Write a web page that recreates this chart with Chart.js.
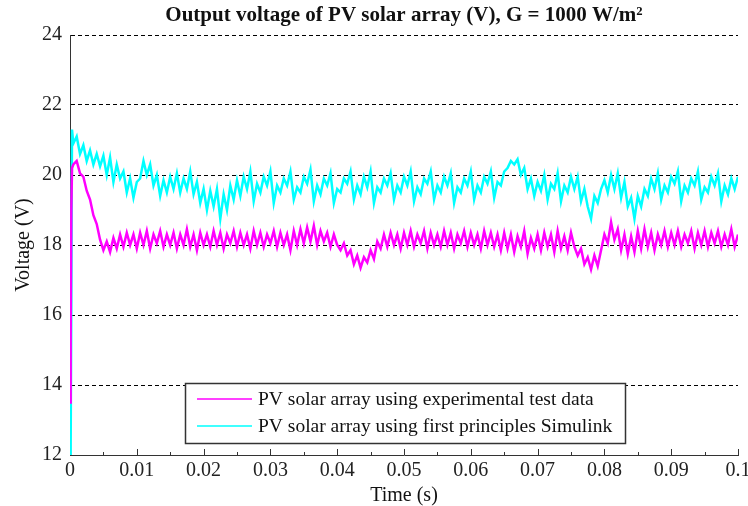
<!DOCTYPE html>
<html>
<head>
<meta charset="utf-8">
<title>Output voltage of PV solar array</title>
<script src="https://cdn.jsdelivr.net/npm/chart.js@4.4.1/dist/chart.umd.min.js"></script>
<style>
  html, body { margin: 0; padding: 0; background: #fff; }
  canvas { display: block; }
</style>
</head>
<body>
<canvas id="pvChart" width="748" height="506"></canvas>
<script>
// switch-on transient, read point by point
var startTimes = [0, 0.0001, 0.0002, 0.0003];
var startExperimental = [13.5, 15.4, 19.0, 20.2];
var startSimulink = [12.0, 12.3, 16.5, 21.3];

// after that one reading every 0.5 ms (0.0005 s .. 0.1 s), 10 per row = 5 ms
var sampleStep = 0.0005;

var experimental = [
  20.3, 20.4, 20.05, 19.95, 19.55, 19.3, 18.85, 18.6, 18.15, 17.85,
  18.1, 17.8, 18.2, 17.9, 18.3, 17.95, 18.35, 18.0, 18.3, 17.9,
  18.35, 18.0, 18.4, 17.9, 18.3, 18.05, 18.4, 17.95, 18.3, 18.0,
  18.35, 17.9, 18.3, 18.0, 18.45, 17.95, 18.3, 17.85, 18.35, 18.0,
  18.3, 17.95, 18.4, 18.0, 18.35, 17.9, 18.3, 18.05, 18.4, 17.95,
  18.35, 18.0, 18.3, 17.9, 18.4, 18.0, 18.35, 17.95, 18.3, 18.05,
  18.4, 17.95, 18.35, 18.0, 18.3, 17.85, 18.4, 18.0, 18.45, 18.05,
  18.5, 18.1, 18.55, 18.0, 18.4, 18.1, 18.35, 17.95, 18.3, 18.0,
  17.85, 18.05, 17.7, 17.85, 17.45, 17.7, 17.35, 17.65, 17.5, 17.85,
  17.6, 18.1, 17.9, 18.3, 17.95, 18.35, 18.0, 18.3, 17.9, 18.35,
  18.0, 18.4, 17.95, 18.3, 18.05, 18.4, 17.9, 18.35, 18.0, 18.3,
  17.95, 18.4, 18.0, 18.35, 17.9, 18.3, 18.05, 18.4, 17.95, 18.35,
  18.0, 18.3, 17.9, 18.4, 18.0, 18.35, 17.95, 18.3, 17.85, 18.35,
  17.9, 18.3, 17.8, 18.25, 17.95, 18.4, 17.75, 18.2, 17.9, 18.3,
  17.85, 18.35, 17.95, 18.3, 17.8, 18.4, 17.9, 18.25, 17.85, 18.35,
  17.95, 17.7, 17.9, 17.45, 17.65, 17.3, 17.7, 17.4, 17.85, 18.3,
  18.05, 18.65, 18.15, 18.45, 17.85, 18.3, 17.75, 18.25, 17.8, 18.4,
  17.9, 18.45, 17.95, 18.35, 17.85, 18.3, 18.0, 18.4, 17.95, 18.35,
  18.0, 18.4, 17.95, 18.3, 18.05, 18.4, 17.9, 18.35, 18.0, 18.4,
  17.95, 18.35, 18.05, 18.4, 17.95, 18.3, 18.0, 18.45, 17.95, 18.3
];

var simulink = [
  20.9, 21.1, 20.6, 20.85, 20.4, 20.7, 20.3, 20.6, 20.25, 20.55,
  20.0, 20.5, 19.8, 20.3, 19.9, 20.1, 19.5, 19.9, 19.35, 19.8,
  19.9, 20.4, 20.0, 20.3, 19.7, 20.0, 19.4, 19.85, 19.5, 19.95,
  19.6, 20.05, 19.5, 19.9, 19.6, 20.1, 19.45, 19.8, 19.2, 19.6,
  19.0, 19.55, 19.1, 19.6, 18.75, 19.45, 19.0, 19.7, 19.3, 19.85,
  19.4, 19.95, 19.6, 20.1, 19.25, 19.75, 19.5, 19.95, 19.7, 20.1,
  19.2, 19.7, 19.5, 19.9, 19.7, 20.1, 19.3, 19.65, 19.5, 19.95,
  19.75, 20.15, 19.25, 19.7, 19.45, 19.9, 19.7, 20.05, 19.2, 19.6,
  19.5, 19.9, 19.75, 20.1, 19.3, 19.7, 19.45, 19.95, 19.65, 20.1,
  19.2, 19.65, 19.5, 19.9, 19.7, 20.05, 19.3, 19.7, 19.5, 19.95,
  19.7, 20.1, 19.25, 19.65, 19.45, 19.9, 19.75, 20.1, 19.3, 19.7,
  19.5, 19.95, 19.7, 20.05, 19.2, 19.65, 19.5, 19.9, 19.7, 20.1,
  19.3, 19.7, 19.5, 19.95, 19.75, 20.1, 19.35, 19.8, 19.7, 20.1,
  20.2, 20.4, 20.3, 20.45, 20.0, 20.2, 19.6, 19.9, 19.4, 19.8,
  19.55, 20.0, 19.3, 19.75, 19.6, 20.05, 19.25, 19.7, 19.5, 19.95,
  19.6, 19.95, 19.25, 19.6, 19.1, 18.75, 19.4, 19.2, 19.6, 19.85,
  19.5, 20.0, 19.6, 20.05, 19.35, 19.8, 19.1, 19.35, 18.75, 19.4,
  19.1, 19.6, 19.4, 19.9, 19.6, 20.05, 19.3, 19.7, 19.5, 19.95,
  19.75, 20.1, 19.25, 19.7, 19.5, 19.9, 19.7, 20.1, 19.3, 19.65,
  19.5, 19.95, 19.7, 20.05, 19.25, 19.7, 19.45, 19.9, 19.6, 19.95
];

var yTicks = [12, 14, 16, 18, 20, 22, 24];
var xMax = 0.1;
var xLabelStep = 0.01;
var xMinorStep = 0.005;

var seriesNames = [
  "PV solar array using experimental test data",
  "PV solar array using first principles Simulink"
];
var seriesColors = ["#ff00ff", "#00ffff"];

var serif = "'Liberation Serif', 'Times New Roman', serif";

function buildPoints(startValues, values) {
  var pts = [];
  for (var i = 0; i < startTimes.length; i++) {
    pts.push({ x: startTimes[i], y: startValues[i] });
  }
  for (var j = 0; j < values.length; j++) {
    pts.push({ x: +((j + 1) * sampleStep).toFixed(4), y: values[j] });
  }
  return pts;
}

// title, axis names, inward time ticks and the boxed legend
var decorations = {
  id: "decorations",
  afterDraw: function (chart) {
    var c = chart.ctx;
    var area = chart.chartArea;
    var xs = chart.scales.x;
    c.save();

    c.strokeStyle = "#333";
    c.lineWidth = 1;
    var n = Math.round(xMax / xMinorStep);
    for (var k = 1; k <= n; k++) {
      var px = Math.round(xs.getPixelForValue(k * xMinorStep)) + 0.5;
      var len = k % 2 === 0 ? 6 : 3;
      c.beginPath();
      c.moveTo(px, area.bottom);
      c.lineTo(px, area.bottom - len);
      c.stroke();
    }

    var midX = (area.left + area.right) / 2;
    c.fillStyle = "#111";
    c.textAlign = "center";
    c.textBaseline = "alphabetic";
    c.font = "bold 21px " + serif;
    c.fillText("Output voltage of PV solar array (V), G = 1000 W/m\u00B2", midX, 21);

    c.font = "20px " + serif;
    c.fillText("Time (s)", midX, 501);

    c.save();
    c.translate(29, (area.top + area.bottom) / 2);
    c.rotate(-Math.PI / 2);
    c.fillText("Voltage (V)", 0, 0);
    c.restore();

    // legend
    var bx = 185, by = 383, bw = 440, bh = 60;
    c.fillStyle = "#fff";
    c.fillRect(bx, by, bw, bh);
    c.strokeStyle = "#333";
    c.lineWidth = 1.5;
    c.strokeRect(bx + 0.5, by + 0.5, bw, bh);
    c.font = "19.5px " + serif;
    c.textAlign = "left";
    c.textBaseline = "middle";
    for (var s = 0; s < seriesNames.length; s++) {
      var ly = by + 16 + s * 27;
      c.strokeStyle = seriesColors[s];
      c.lineWidth = 1.5;
      c.beginPath();
      c.moveTo(bx + 12, ly);
      c.lineTo(bx + 67, ly);
      c.stroke();
      c.fillStyle = "#111";
      c.fillText(seriesNames[s], bx + 73, ly + 1);
    }

    c.restore();
  }
};

var ctx = document.getElementById("pvChart").getContext("2d");

var pvChart = new Chart(ctx, {
  type: "line",
  data: {
    datasets: [
      {
        label: seriesNames[0],
        data: buildPoints(startExperimental, experimental),
        borderColor: seriesColors[0],
        borderWidth: 2.5,
        pointRadius: 0,
        tension: 0,
        fill: false,
      },
      {
        label: seriesNames[1],
        data: buildPoints(startSimulink, simulink),
        borderColor: seriesColors[1],
        borderWidth: 2.5,
        pointRadius: 0,
        tension: 0,
        fill: false,
      },
    ],
  },
  options: {
    responsive: false,
    animation: false,
    devicePixelRatio: 1,
    layout: { padding: { top: 35, right: 10, left: 0, bottom: 0 } },
    plugins: {
      legend: { display: false },
      title: { display: false },
      tooltip: { enabled: false },
    },
    scales: {
      x: {
        type: "linear",
        min: 0,
        max: xMax,
        afterFit: function (scale) { scale.height = 51; },
        ticks: {
          stepSize: xLabelStep,
          autoSkip: false,
          maxRotation: 0,
          padding: -4,
          color: "#222",
          font: { family: serif, size: 20 },
          callback: function (v) { return String(+v.toFixed(3)); },
        },
        grid: { display: false },
        border: { display: true, color: "#333", width: 1 },
      },
      y: {
        min: yTicks[0],
        max: yTicks[yTicks.length - 1],
        afterFit: function (scale) { scale.width = 70; },
        ticks: {
          stepSize: yTicks[1] - yTicks[0],
          padding: 8,
          color: "#222",
          font: { family: serif, size: 20 },
        },
        grid: { color: "#000", lineWidth: 1, drawTicks: false },
        border: { display: true, color: "#333", width: 1, dash: [4, 3] },
      },
    },
  },
  plugins: [decorations],
});
</script>
</body>
</html>
